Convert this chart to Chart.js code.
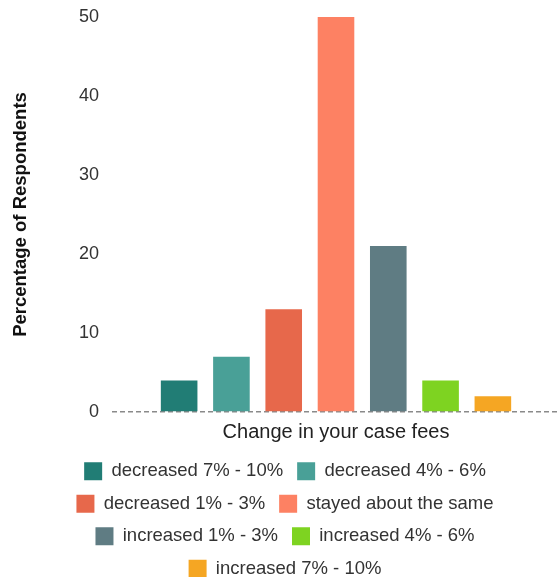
<!DOCTYPE html>
<html>
<head>
<meta charset="utf-8">
<script src="https://cdn.jsdelivr.net/npm/chart.js@4.4.1/dist/chart.umd.min.js"></script>
<style>
  html, body { margin: 0; padding: 0; background: #fff; }
  #wrap { width: 560px; height: 577px; }
</style>
</head>
<body>
<div id="wrap"><canvas id="feesChart"></canvas></div>
<script>
// survey answers: change in case fees
const categories = [''];
const seriesNames = [
    'decreased 7% - 10%',
    'decreased 4% - 6%',
    'decreased 1% - 3%',
    'stayed about the same',
    'increased 1% - 3%',
    'increased 4% - 6%',
    'increased 7% - 10%'
];
const seriesValues = [4, 7, 13, 50, 21, 4, 2];
const seriesColors = ['#217d75', '#49a097', '#e7684b', '#fd8163', '#5f7c83', '#7ed321', '#f5a623'];
const yTicks = [0, 10, 20, 30, 40, 50];

const FONT = '"Liberation Sans", Arial, sans-serif';
const padLeft = 10;

const datasets = seriesNames.map((name, i) => ({
    label: name,
    data: [seriesValues[i]],
    backgroundColor: seriesColors[i],
    barPercentage: 0.7,
    categoryPercentage: 0.817
}));

new Chart(document.getElementById('feesChart'), {
    type: 'bar',
    data: { labels: categories, datasets },
    options: {
        responsive: true,
        maintainAspectRatio: false,
        animation: false,
        layout: { padding: { top: 17, left: padLeft, right: 0, bottom: -11 } },
        plugins: {
            tooltip: { enabled: false },
            legend: {
                position: 'bottom',
                labels: {
                    boxWidth: 18,
                    boxHeight: 18,
                    padding: 14,
                    color: '#333',
                    font: { family: FONT, size: 18.5 }
                }
            }
        },
        scales: {
            x: {
                grid: { display: false },
                border: { display: false },
                ticks: { display: false },
                title: {
                    display: true,
                    text: 'Change in your case fees',
                    color: '#222',
                    padding: { top: 0, bottom: 4 },
                    font: { family: FONT, size: 20 }
                }
            },
            y: {
                min: 0,
                max: 50,
                z: 1,
                afterFit: scale => {
                    // fixed axis width; the top label may spill into the margin
                    scale.width = 112 - padLeft;
                    scale.paddingTop = 0;
                    scale.paddingBottom = 0;
                },
                afterBuildTicks: scale => { scale.ticks = yTicks.map(v => ({ value: v })); },
                grid: {
                    drawTicks: false,
                    lineWidth: 1.5,
                    color: ctx => (ctx.tick && ctx.tick.value === 0 ? '#8a8a8a' : 'rgba(0,0,0,0)')
                },
                border: { display: false, dash: [5, 3] },
                ticks: {
                    padding: 13,
                    color: '#333',
                    font: { family: FONT, size: 18 }
                },
                title: {
                    display: true,
                    text: 'Percentage of Respondents',
                    color: '#111',
                    padding: { top: 0, bottom: 0 },
                    font: { family: FONT, size: 18.5, weight: 'bold' }
                }
            }
        }
    }
});
</script>
</body>
</html>
